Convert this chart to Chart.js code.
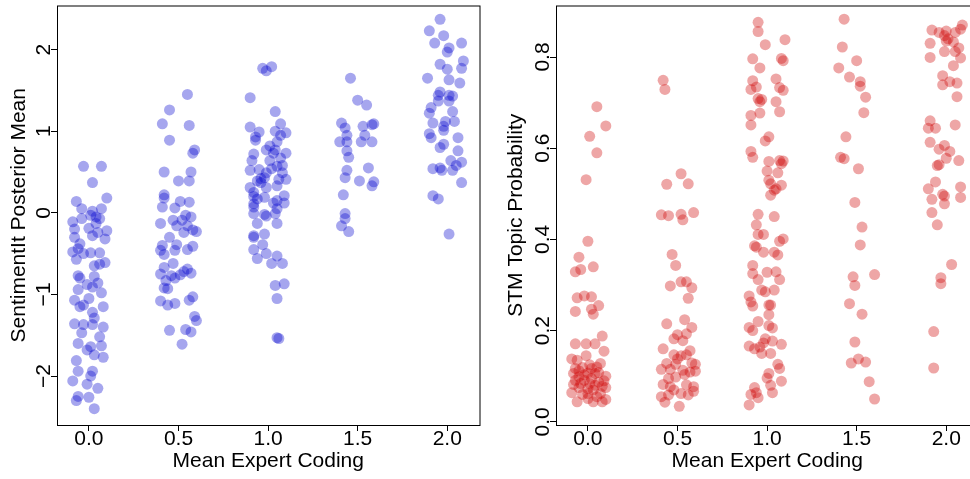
<!DOCTYPE html>
<html>
<head>
<meta charset="utf-8">
<script src="https://cdn.jsdelivr.net/npm/chart.js@4.4.1/dist/chart.umd.min.js"></script>
<style>
  html, body { margin: 0; padding: 0; background: #fff; overflow: hidden; }
  #left  { position: absolute; left: 0; top: 0; width: 485px; height: 479px; }
  #right { position: absolute; left: 485px; top: 0; width: 499px; height: 479px; }
</style>
</head>
<body>
<div id="left"><canvas id="sentimentChart"></canvas></div>
<div id="right"><canvas id="topicChart"></canvas></div>
<script>
// x categories (mean expert coding) and their tick labels
const codingLevels = [0, 0.5, 1, 1.5, 2];
const codingLabels = ['0.0', '0.5', '1.0', '1.5', '2.0'];

const sentimentTicks = [-2, -1, 0, 1, 2];
const sentimentTickLabels = ['\u22122', '\u22121', '0', '1', '2'];
const topicTicks = [0, 0.2, 0.4, 0.6, 0.8];
const topicTickLabels = ['0.0', '0.2', '0.4', '0.6', '0.8'];

// [jitter, SentimentIt posterior mean], one array per coding level
const sentiment00 = [[-0.03,0.57],[0.07,0.57],[0.02,0.37],[0.10,0.18],[-0.07,0.14],[0.07,0.05],[-0.04,0.05],[0.02,0.02],[0.01,-0.03],[0.04,-0.05],[-0.04,-0.07],[0.06,-0.07],[-0.09,-0.11],[0.04,-0.13],[0.00,-0.19],[0.05,-0.24],[-0.08,-0.20],[0.10,-0.22],[0.02,-0.28],[-0.08,-0.30],[0.09,-0.32],[-0.05,-0.38],[-0.06,-0.44],[-0.09,-0.48],[-0.03,-0.50],[0.01,-0.49],[0.06,-0.49],[-0.07,-0.57],[0.09,-0.61],[0.06,-0.63],[0.03,-0.65],[-0.06,-0.77],[0.03,-0.78],[-0.05,-0.80],[0.05,-0.86],[-0.01,-0.88],[0.02,-0.91],[-0.06,-0.94],[0.07,-0.98],[-0.08,-1.07],[0.00,-1.05],[-0.03,-1.13],[-0.05,-1.15],[0.08,-1.15],[0.02,-1.22],[-0.08,-1.36],[-0.03,-1.37],[0.03,-1.29],[0.02,-1.37],[0.08,-1.40],[-0.04,-1.47],[0.06,-1.52],[-0.06,-1.60],[0.01,-1.64],[0.07,-1.63],[-0.01,-1.68],[0.03,-1.74],[0.08,-1.77],[-0.07,-1.81],[0.02,-1.94],[-0.06,-1.94],[-0.09,-2.06],[0.01,-2.00],[-0.01,-2.10],[0.05,-2.15],[-0.06,-2.25],[0.00,-2.26],[-0.07,-2.30],[0.03,-2.40]];
const sentiment05 = [[0.05,1.45],[-0.05,1.26],[-0.09,1.09],[0.06,1.07],[-0.05,0.89],[0.09,0.77],[0.08,0.73],[-0.08,0.50],[0.07,0.50],[0.00,0.39],[0.06,0.39],[-0.08,0.22],[-0.08,0.18],[0.06,0.13],[0.01,0.14],[-0.09,0.07],[-0.02,0.06],[0.04,-0.03],[0.07,-0.05],[-0.03,-0.09],[0.02,-0.09],[-0.10,-0.13],[-0.01,-0.16],[0.05,-0.16],[0.08,-0.21],[0.10,-0.23],[0.03,-0.24],[-0.05,-0.30],[-0.01,-0.39],[-0.09,-0.40],[0.08,-0.41],[0.05,-0.45],[-0.10,-0.46],[-0.02,-0.46],[-0.08,-0.51],[-0.03,-0.62],[-0.08,-0.67],[0.05,-0.69],[0.03,-0.72],[-0.10,-0.75],[0.07,-0.74],[-0.04,-0.77],[-0.02,-0.80],[-0.07,-0.83],[0.01,-0.76],[-0.08,-0.92],[-0.06,-0.93],[0.08,-1.03],[0.06,-1.07],[-0.10,-1.08],[-0.06,-1.13],[-0.02,-1.11],[0.09,-1.27],[0.10,-1.32],[-0.05,-1.44],[0.04,-1.43],[0.07,-1.46],[0.02,-1.61]];
const sentiment10 = [[-0.03,1.77],[0.02,1.79],[-0.01,1.74],[-0.10,1.41],[0.04,1.24],[0.07,1.09],[-0.10,1.05],[-0.05,0.99],[0.04,1.00],[0.10,0.98],[-0.07,0.93],[0.07,0.95],[-0.07,0.89],[0.05,0.87],[-0.01,0.77],[0.04,0.77],[0.03,0.73],[-0.08,0.72],[0.10,0.73],[0.07,0.67],[-0.09,0.64],[0.01,0.64],[0.08,0.58],[0.05,0.57],[-0.05,0.53],[-0.10,0.52],[0.02,0.54],[-0.01,0.49],[0.08,0.49],[0.10,0.41],[-0.04,0.42],[-0.02,0.43],[0.06,0.41],[-0.06,0.39],[-0.10,0.31],[0.05,0.33],[-0.01,0.31],[-0.08,0.25],[-0.08,0.20],[0.09,0.21],[-0.02,0.19],[-0.06,0.17],[0.05,0.15],[-0.08,0.11],[0.03,0.12],[0.09,0.12],[-0.08,0.07],[0.05,0.05],[-0.08,-0.01],[-0.02,-0.02],[0.04,-0.01],[-0.01,-0.04],[0.05,-0.13],[-0.06,-0.13],[-0.08,-0.28],[-0.02,-0.26],[-0.08,-0.30],[-0.03,-0.39],[-0.08,-0.45],[-0.01,-0.50],[-0.06,-0.56],[0.05,-0.53],[0.02,-0.62],[0.08,-0.62],[0.04,-0.89],[0.09,-0.87],[0.05,-1.05],[0.06,-1.54],[0.05,-1.53],[-0.04,0.37],[0.01,0.82]];
const sentiment15 = [[-0.04,1.65],[0.00,1.38],[0.05,1.32],[-0.09,1.10],[-0.07,1.04],[0.03,1.06],[0.09,1.09],[0.08,1.08],[-0.06,0.95],[0.04,0.95],[-0.10,0.87],[-0.06,0.87],[0.02,0.87],[0.08,0.87],[-0.06,0.76],[-0.05,0.68],[-0.06,0.52],[0.06,0.55],[-0.07,0.43],[0.01,0.39],[0.09,0.38],[0.08,0.33],[-0.08,0.22],[-0.07,-0.01],[-0.07,-0.07],[-0.09,-0.16],[-0.05,-0.23]];
const sentiment20 = [[-0.04,2.37],[-0.10,2.23],[-0.02,2.17],[-0.07,2.08],[0.08,2.08],[0.01,2.02],[0.00,1.97],[0.09,1.86],[-0.04,1.82],[0.00,1.76],[0.08,1.77],[-0.11,1.65],[0.01,1.63],[0.07,1.59],[-0.04,1.48],[-0.05,1.44],[0.01,1.44],[0.03,1.43],[-0.05,1.37],[0.01,1.37],[-0.09,1.29],[-0.10,1.22],[0.03,1.24],[-0.08,1.10],[-0.01,1.12],[0.04,1.12],[-0.02,1.06],[-0.02,1.01],[-0.10,0.97],[-0.09,0.92],[0.06,0.92],[-0.02,0.84],[-0.04,0.80],[0.06,0.76],[0.02,0.64],[0.08,0.62],[0.05,0.58],[-0.08,0.54],[-0.04,0.55],[-0.03,0.52],[0.03,0.52],[0.08,0.37],[-0.08,0.21],[-0.05,0.17],[0.01,-0.26]];

// [jitter, STM topic probability], one array per coding level
const topic00 = [[0.05,0.691],[0.10,0.649],[0.01,0.626],[0.05,0.590],[-0.01,0.531],[0.00,0.396],[-0.05,0.361],[-0.04,0.334],[-0.07,0.329],[0.03,0.340],[-0.06,0.272],[-0.02,0.276],[0.02,0.274],[0.06,0.255],[-0.07,0.242],[0.02,0.247],[0.03,0.236],[0.08,0.188],[-0.07,0.171],[-0.01,0.171],[0.04,0.171],[0.09,0.155],[-0.09,0.138],[-0.01,0.145],[-0.06,0.135],[-0.07,0.117],[-0.03,0.119],[0.02,0.117],[0.05,0.120],[0.07,0.128],[-0.08,0.106],[0.00,0.107],[0.04,0.106],[-0.05,0.099],[0.10,0.100],[-0.07,0.091],[-0.02,0.091],[0.06,0.087],[0.01,0.084],[0.08,0.078],[0.10,0.075],[-0.05,0.075],[0.03,0.070],[-0.09,0.064],[0.00,0.062],[0.07,0.062],[0.05,0.055],[0.10,0.049],[-0.06,0.044],[0.00,0.051],[0.03,0.044],[0.08,0.044],[-0.04,0.084],[0.02,0.095],[0.00,0.073],[-0.05,0.112],[0.01,0.125],[0.06,0.108],[-0.03,0.060],[0.09,0.090],[0.04,0.080],[-0.08,0.082],[-0.02,0.103]];
const topic05 = [[-0.08,0.749],[-0.07,0.729],[0.02,0.544],[-0.06,0.521],[0.06,0.522],[-0.09,0.454],[-0.05,0.452],[0.02,0.455],[0.03,0.443],[0.09,0.459],[-0.03,0.367],[-0.01,0.343],[-0.04,0.298],[0.02,0.307],[0.05,0.307],[0.08,0.294],[0.06,0.271],[-0.06,0.215],[0.04,0.224],[0.08,0.207],[0.00,0.191],[-0.02,0.182],[0.05,0.193],[0.03,0.178],[-0.08,0.160],[0.07,0.156],[-0.02,0.147],[0.02,0.145],[0.05,0.147],[-0.06,0.128],[-0.01,0.126],[0.08,0.129],[0.10,0.126],[-0.09,0.115],[-0.04,0.115],[0.03,0.113],[0.07,0.109],[0.10,0.111],[-0.01,0.098],[0.04,0.104],[-0.08,0.082],[-0.04,0.077],[0.05,0.081],[0.09,0.077],[-0.02,0.070],[0.02,0.062],[0.06,0.059],[0.09,0.067],[-0.09,0.055],[-0.05,0.059],[-0.07,0.043],[0.01,0.034],[0.00,0.138],[-0.05,0.095]];
const topic10 = [[-0.05,0.876],[-0.05,0.856],[-0.01,0.827],[0.10,0.838],[-0.08,0.796],[0.08,0.797],[0.09,0.792],[-0.04,0.776],[-0.08,0.748],[0.05,0.752],[-0.06,0.734],[-0.09,0.729],[0.07,0.733],[0.09,0.727],[-0.05,0.709],[-0.03,0.707],[-0.04,0.702],[0.05,0.702],[-0.09,0.672],[-0.04,0.677],[0.07,0.680],[-0.09,0.651],[0.01,0.625],[-0.01,0.616],[-0.09,0.593],[-0.08,0.580],[0.01,0.571],[0.07,0.573],[0.09,0.572],[0.08,0.566],[0.00,0.550],[0.06,0.546],[0.01,0.530],[0.02,0.522],[0.08,0.519],[0.05,0.511],[0.04,0.508],[0.02,0.497],[-0.05,0.455],[0.04,0.450],[-0.06,0.432],[-0.05,0.411],[-0.02,0.411],[0.09,0.401],[0.07,0.396],[-0.07,0.386],[-0.06,0.383],[-0.02,0.372],[0.04,0.372],[0.06,0.366],[-0.08,0.343],[-0.08,0.325],[-0.05,0.312],[0.00,0.328],[0.05,0.329],[0.07,0.312],[-0.03,0.289],[-0.01,0.285],[0.04,0.289],[0.01,0.256],[-0.10,0.276],[-0.09,0.263],[-0.08,0.254],[0.02,0.256],[0.01,0.235],[-0.05,0.220],[-0.10,0.207],[-0.08,0.200],[0.01,0.211],[0.03,0.206],[-0.10,0.166],[-0.07,0.160],[-0.04,0.164],[-0.01,0.182],[-0.02,0.173],[0.03,0.177],[0.08,0.170],[-0.03,0.150],[0.02,0.150],[0.06,0.126],[0.07,0.117],[0.01,0.106],[0.08,0.089],[0.02,0.080],[-0.07,0.075],[-0.06,0.064],[-0.09,0.060],[-0.05,0.053],[0.03,0.064],[-0.10,0.037],[0.00,0.096]];
const topic15 = [[-0.07,0.883],[-0.08,0.822],[0.00,0.792],[-0.10,0.776],[-0.04,0.756],[0.02,0.746],[0.02,0.736],[0.05,0.712],[0.04,0.678],[-0.06,0.625],[-0.09,0.580],[-0.07,0.577],[0.01,0.555],[-0.01,0.481],[0.03,0.427],[0.02,0.388],[-0.02,0.318],[0.10,0.323],[-0.01,0.299],[-0.04,0.259],[0.03,0.236],[-0.01,0.175],[0.01,0.138],[-0.03,0.129],[0.05,0.131],[0.07,0.088],[0.10,0.050]];
const topic20 = [[-0.08,0.859],[-0.04,0.854],[0.00,0.857],[-0.01,0.847],[0.01,0.840],[0.05,0.854],[0.09,0.870],[0.08,0.861],[0.00,0.835],[0.04,0.833],[-0.09,0.830],[0.07,0.820],[0.05,0.812],[-0.01,0.812],[-0.09,0.799],[0.08,0.798],[0.04,0.781],[-0.02,0.759],[0.02,0.746],[-0.02,0.739],[0.06,0.743],[0.06,0.713],[-0.09,0.660],[-0.10,0.644],[-0.06,0.644],[0.05,0.651],[-0.09,0.613],[-0.04,0.598],[-0.01,0.606],[0.02,0.593],[0.00,0.578],[0.07,0.573],[-0.05,0.562],[-0.04,0.564],[-0.06,0.526],[-0.10,0.511],[-0.02,0.499],[-0.01,0.495],[0.08,0.515],[-0.08,0.488],[-0.01,0.478],[0.08,0.492],[-0.08,0.459],[-0.05,0.432],[0.03,0.345],[-0.03,0.316],[-0.03,0.303],[-0.07,0.198],[-0.07,0.118]];

Chart.defaults.font.family = '"Liberation Sans", Arial, sans-serif';
Chart.defaults.color = '#000';

function jittered(groups) {
    const pts = [];
    groups.forEach((pairs, i) => {
        pairs.forEach(p => pts.push({ x: codingLevels[i] + p[0], y: p[1] }));
    });
    return pts;
}

// box round the plot and y tick labels written along the axis (R style)
const framePlugin = {
    id: 'frame',
    afterDraw(chart, args, opts) {
        const ctx = chart.ctx;
        const a = chart.chartArea;
        const y = chart.scales.y;
        ctx.save();
        ctx.strokeStyle = '#000';
        ctx.lineWidth = 1;
        ctx.strokeRect(a.left + 0.5, a.top + 0.5, a.right - a.left, a.bottom - a.top);
        ctx.fillStyle = '#000';
        ctx.font = '21px "Liberation Sans", Arial, sans-serif';
        ctx.textAlign = 'center';
        ctx.textBaseline = 'middle';
        y.ticks.forEach((t, i) => {
            ctx.save();
            ctx.translate(a.left - opts.gap, y.getPixelForValue(t.value));
            ctx.rotate(-Math.PI / 2);
            ctx.fillText(opts.labels[i], 0, 0);
            ctx.restore();
        });
        ctx.restore();
    }
};

function makeChart(id, points, color, yMin, yMax, yTicks, yLabels, yTitle, yWidth, titlePad) {
    return new Chart(document.getElementById(id), {
        type: 'scatter',
        data: {
            datasets: [{
                data: points,
                backgroundColor: color,
                borderWidth: 0,
                pointRadius: 5.5,
                pointHoverRadius: 5.5
            }]
        },
        options: {
            responsive: true,
            maintainAspectRatio: false,
            animation: false,
            events: [],
            layout: { padding: { top: 2, right: 4, left: 0, bottom: 0 } },
            plugins: {
                legend: { display: false },
                tooltip: { enabled: false },
                frame: { labels: yLabels, gap: 13 }
            },
            scales: {
                x: {
                    type: 'linear',
                    min: -0.178,
                    max: 2.18,
                    afterBuildTicks: s => { s.ticks = codingLevels.map(v => ({ value: v })); },
                    afterFit: s => { s.height = 54; },
                    border: { display: false },
                    grid: { drawOnChartArea: false, drawTicks: true, tickLength: 6, color: '#000' },
                    ticks: {
                        autoSkip: false, maxRotation: 0, padding: -4,
                        font: { size: 21 },
                        callback: (v, i) => codingLabels[i]
                    },
                    title: { display: true, text: 'Mean Expert Coding', font: { size: 21 }, padding: { top: 0, bottom: 5 } }
                },
                y: {
                    type: 'linear',
                    min: yMin,
                    max: yMax,
                    afterBuildTicks: s => { s.ticks = yTicks.map(v => ({ value: v })); },
                    afterFit: s => { s.width = yWidth; },
                    border: { display: false },
                    grid: { drawOnChartArea: false, drawTicks: true, tickLength: 6, color: '#000' },
                    ticks: { display: false },
                    title: { display: true, text: yTitle, font: { size: 21 }, padding: { top: titlePad, bottom: 0 } }
                }
            }
        },
        plugins: [framePlugin]
    });
}

makeChart('sentimentChart',
    jittered([sentiment00, sentiment05, sentiment10, sentiment15, sentiment20]),
    'rgba(0, 0, 205, 0.35)', -2.6, 2.54,
    sentimentTicks, sentimentTickLabels, 'SentimentIt Posterior Mean', 57, 7);

makeChart('topicChart',
    jittered([topic00, topic05, topic10, topic15, topic20]),
    'rgba(205, 0, 0, 0.35)', -0.007, 0.913,
    topicTicks, topicTickLabels, 'STM Topic Probability', 71, 19);
</script>
</body>
</html>
